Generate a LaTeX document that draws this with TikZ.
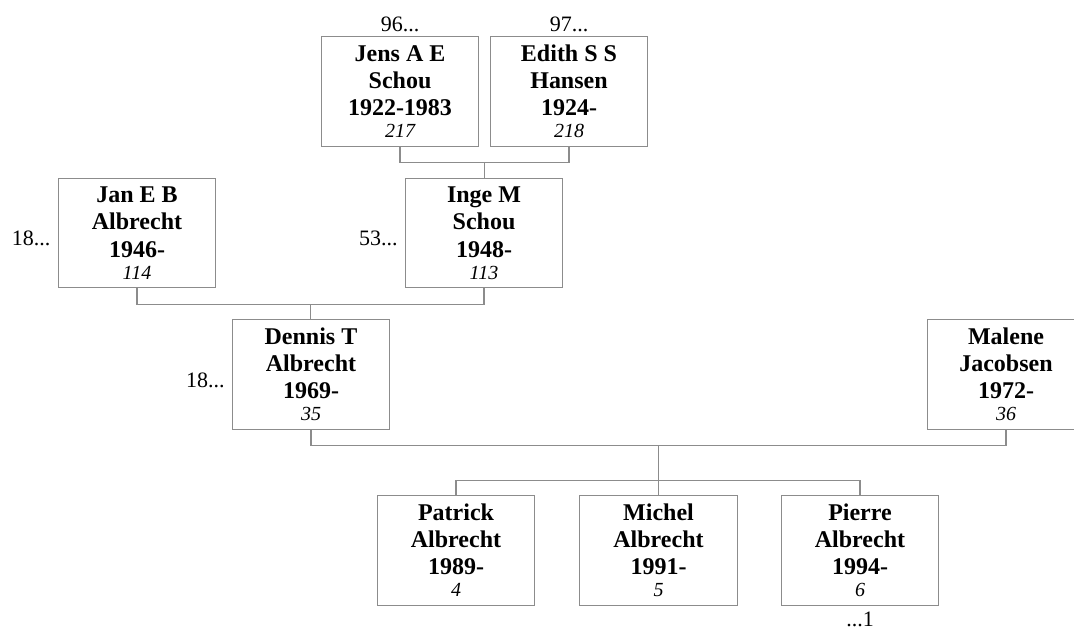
\documentclass[tikz,border=0pt]{standalone}
\usepackage{fontspec}
\setmainfont{Liberation Serif}
\usetikzlibrary{calc}
\definecolor{linegray}{RGB}{140,140,140}
\tikzset{
  pbox/.style={draw=linegray, line width=1.1pt, fill=white, minimum width=157.5pt, minimum height=109.5pt, inner sep=0pt},
  nametxt/.style={anchor=base, inner sep=0pt, font=\fontsize{24}{28}\selectfont\bfseries},
  numtxt/.style={anchor=base, inner sep=0pt, font=\fontsize{20}{24}\selectfont\itshape},
  lbl/.style={inner sep=0pt, font=\fontsize{22}{26}\selectfont},
  conn/.style={draw=linegray, line width=1.1pt},
}
\newcommand\fperson[6]{%
  \node[pbox] (#1) at (#2) {};
  \node[nametxt] (#1-a) at ([yshift=-25pt]#1.north) {#3};
  \node[nametxt] (#1-b) at ([yshift=-52pt]#1.north) {#4};
  \node[nametxt] (#1-c) at ([yshift=-79.5pt]#1.north) {#5};
  \node[numtxt] (#1-d) at ([yshift=-101.5pt]#1.north) {#6};
}
\begin{document}
\begin{tikzpicture}[x=1pt,y=-1pt]
\clip (0,0) rectangle (1074,631);
\fill[white] (0,0) rectangle (1074,631);
% persons
\fperson{jens}{400,91.5}{Jens A E}{Schou}{1922-1983}{217}
\fperson{edith}{569,91.5}{Edith S S}{Hansen}{1924-\hspace{5pt}}{218}
\fperson{jan}{137,233}{Jan E B}{Albrecht}{1946-\hspace{5pt}}{114}
\fperson{inge}{484,233}{Inge M}{Schou}{1948-\hspace{5pt}}{113}
\fperson{dennis}{311,374.5}{Dennis T}{Albrecht}{1969-\hspace{5pt}}{35}
\fperson{malene}{1006,374.5}{Malene}{Jacobsen}{1972-\hspace{5pt}}{36}
\fperson{patrick}{456,550.5}{Patrick}{Albrecht}{1989-\hspace{5pt}}{4}
\fperson{michel}{658.5,550.5}{Michel}{Albrecht}{1991-\hspace{5pt}}{5}
\fperson{pierre}{860,550.5}{Pierre}{Albrecht}{1994-\hspace{5pt}}{6}
% connectors
\draw[conn] (jens.south) -- ++(0,16) -| (edith.south);
\coordinate (je) at ($(jens.south)!0.5!(edith.south)+(0,16)$);
\draw[conn] (je) -- (je |- inge.north);
\draw[conn] (jan.south) -- ++(0,16) -| (inge.south);
\coordinate (ji) at ($(jan.south)!0.5!(inge.south)+(0,16)$);
\draw[conn] (ji) -- (ji |- dennis.north);
\draw[conn] (dennis.south) -- ++(0,16) -| (malene.south);
\coordinate (dm) at ($(dennis.south)!0.5!(malene.south)+(0,16)$);
\coordinate (kids) at ($(dm)+(0,35)$);
\draw[conn] (dm) -- (dm |- michel.north);
\draw[conn] (patrick.north) -- (patrick.north |- kids) -- (pierre.north |- kids) -- (pierre.north);
% labels
\node[lbl, anchor=base] (l96) at ([yshift=5pt]jens.north) {96...};
\node[lbl, anchor=base] (l97) at ([yshift=5pt]edith.north) {97...};
\node[lbl, anchor=base east] (l18a) at ([xshift=-7pt,yshift=-68pt]jan.north west) {18...};
\node[lbl, anchor=base east] (l53) at ([xshift=-7pt,yshift=-68pt]inge.north west) {53...};
\node[lbl, anchor=base east] (l18b) at ([xshift=-7pt,yshift=-68pt]dennis.north west) {18...};
\node[lbl, anchor=base] (l1) at ([yshift=-21pt]pierre.south) {...1};
\end{tikzpicture}
\end{document}
